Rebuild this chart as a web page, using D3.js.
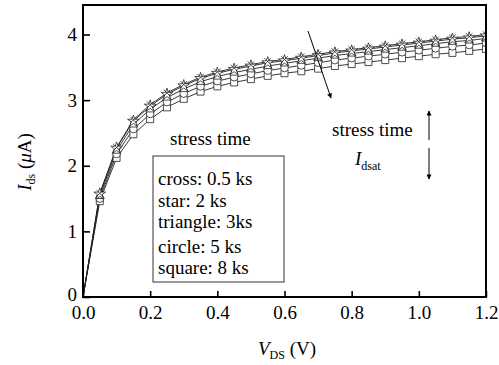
<!DOCTYPE html>
<html>
<head>
<meta charset="utf-8">
<script src="https://cdn.jsdelivr.net/npm/d3@7"></script>
<style>
  body { margin: 0; background: #fff; }
  svg text { font-family: "Liberation Serif", "Times New Roman", serif; fill: #000; }
</style>
</head>
<body>
<svg id="svg" width="499" height="365"></svg>
<script>
'use strict'

// drain voltage (V)
var vds = [0, 0.05, 0.1, 0.15, 0.2, 0.25, 0.3, 0.35, 0.4, 0.45, 0.5, 0.55, 0.6,
           0.65, 0.7, 0.75, 0.8, 0.85, 0.9, 0.95, 1.0, 1.05, 1.1, 1.15, 1.2];

// Ids (uA) for each stress time
var cross    = [0, 1.58, 2.28, 2.70, 2.93, 3.11, 3.24, 3.35, 3.43, 3.49, 3.54, 3.59, 3.62,
                3.66, 3.70, 3.74, 3.77, 3.80, 3.83, 3.86, 3.89, 3.92, 3.95, 3.97, 4.00];
var star     = [0, 1.57, 2.27, 2.68, 2.91, 3.09, 3.22, 3.33, 3.41, 3.47, 3.52, 3.57, 3.60,
                3.64, 3.68, 3.72, 3.75, 3.78, 3.81, 3.84, 3.87, 3.90, 3.93, 3.95, 3.98];
var triangle = [0, 1.54, 2.23, 2.63, 2.86, 3.04, 3.17, 3.28, 3.36, 3.42, 3.47, 3.52, 3.56,
                3.60, 3.64, 3.68, 3.71, 3.74, 3.77, 3.80, 3.83, 3.86, 3.89, 3.91, 3.94];
var circle   = [0, 1.50, 2.18, 2.56, 2.79, 2.97, 3.10, 3.21, 3.29, 3.35, 3.40, 3.45, 3.49,
                3.53, 3.57, 3.61, 3.64, 3.67, 3.70, 3.73, 3.76, 3.79, 3.82, 3.84, 3.87];
var square   = [0, 1.46, 2.12, 2.48, 2.71, 2.89, 3.02, 3.13, 3.21, 3.27, 3.32, 3.37, 3.41,
                3.44, 3.48, 3.52, 3.55, 3.58, 3.61, 3.64, 3.67, 3.70, 3.72, 3.75, 3.78];

var xTicks = [0, 0.2, 0.4, 0.6, 0.8, 1.0, 1.2];
var yTicks = [0, 1, 2, 3, 4];
var legendLines = ['cross: 0.5 ks', 'star: 2 ks', 'triangle: 3ks', 'circle: 5 ks', 'square: 8 ks'];

// drawn bottom-first so the top curves sit over the lower ones
var series = [
  { name: 'square', values: square, symbol: d3.symbolSquare, size: 49 },
  { name: 'circle', values: circle, symbol: d3.symbolCircle, size: 46 },
  { name: 'triangle', values: triangle, symbol: d3.symbolTriangle, size: 34 },
  { name: 'star', values: star, symbol: d3.symbolStar, size: 42 },
  { name: 'cross', values: cross, symbol: d3.symbolX, size: 30 }
];

var svg = d3.select('#svg');
var pLeft = 83, pRight = 486, pTop = 5, pBottom = 297;

var x = d3.scaleLinear().domain([0, 1.2]).range([pLeft, pRight]);
var y = d3.scaleLinear().domain([0, 4.45]).range([pBottom, pTop]);

var defs = svg.append('defs');
defs.append('clipPath').attr('id', 'plot')
  .append('rect').attr('x', pLeft).attr('y', pTop)
  .attr('width', pRight - pLeft).attr('height', pBottom - pTop);

var xAxis = svg.append('g')
  .attr('transform', 'translate(0,' + pBottom + ')')
  .call(d3.axisBottom(x).tickValues(xTicks).tickFormat(d3.format('.1f'))
    .tickSizeInner(-6).tickSizeOuter(0).tickPadding(9));
var yAxis = svg.append('g')
  .attr('transform', 'translate(' + pLeft + ',0)')
  .call(d3.axisLeft(y).tickValues(yTicks).tickFormat(d3.format('d'))
    .tickSizeInner(-7).tickSizeOuter(0).tickPadding(6));
[xAxis, yAxis].forEach(function(g) {
  g.select('.domain').remove();
  g.selectAll('line').attr('stroke', '#000').attr('stroke-width', 1.6);
  g.selectAll('text').attr('font-size', 19)
    .style('font-family', '"Liberation Serif", "Times New Roman", serif');
});
// lift the "0" a touch so it clears the "0.0" below
yAxis.selectAll('text').filter(function(d) { return d === 0; }).attr('dy', '0.2em');

var plot = svg.append('g').attr('clip-path', 'url(#plot)');

var line = d3.line()
  .x(function(d, i) { return x(vds[i]); })
  .y(function(d) { return y(d); });

series.forEach(function(s) {
  plot.append('path')
    .attr('d', line(s.values))
    .attr('fill', 'none')
    .attr('stroke', '#222')
    .attr('stroke-width', 0.9);
});

series.forEach(function(s) {
  var sym = d3.symbol().type(s.symbol).size(s.size);
  plot.selectAll('path.m-' + s.name)
    .data(s.values.slice(1))
    .enter().append('path')
    .attr('class', 'm-' + s.name)
    .attr('transform', function(d, i) { return 'translate(' + x(vds[i + 1]) + ',' + y(d) + ')'; })
    .attr('d', sym)
    .attr('fill', s.name === 'cross' ? 'none' : '#fff')
    .attr('stroke', '#222')
    .attr('stroke-width', 0.8);
});

// frame
svg.append('rect')
  .attr('x', pLeft).attr('y', pTop)
  .attr('width', pRight - pLeft).attr('height', pBottom - pTop)
  .attr('fill', 'none').attr('stroke', '#000').attr('stroke-width', 2);

// arrows
defs.append('marker').attr('id', 'head')
  .attr('viewBox', '0 0 10 10').attr('refX', 9).attr('refY', 5)
  .attr('markerWidth', 9).attr('markerHeight', 5).attr('orient', 'auto')
  .attr('markerUnits', 'userSpaceOnUse')
  .append('path').attr('d', 'M0,0 L10,5 L0,10 z').attr('fill', '#000');

function arrow(x1, y1, x2, y2) {
  svg.append('line')
    .attr('x1', x1).attr('y1', y1).attr('x2', x2).attr('y2', y2)
    .attr('stroke', '#000').attr('stroke-width', 1)
    .attr('marker-end', 'url(#head)');
}
arrow(308, 31, 331, 98);
arrow(429, 140, 429, 111);
arrow(429, 148, 429, 179);

// annotations
svg.append('text').attr('x', 170).attr('y', 145).attr('font-size', 19).text('stress time');
svg.append('text').attr('x', 332).attr('y', 136).attr('font-size', 19).text('stress time');
var idsat = svg.append('text').attr('x', 355).attr('y', 165).attr('font-size', 19);
idsat.append('tspan').attr('font-style', 'italic').text('I');
idsat.append('tspan').attr('font-size', 12).attr('dy', 5).text('dsat');

// legend box
svg.append('rect')
  .attr('x', 153).attr('y', 156).attr('width', 131).attr('height', 126)
  .attr('fill', 'none').attr('stroke', '#333').attr('stroke-width', 1);
var legendY = [185, 207, 228, 253, 274];
svg.selectAll('text.legend')
  .data(legendLines)
  .enter().append('text')
  .attr('class', 'legend')
  .attr('x', 158)
  .attr('y', function(d, i) { return legendY[i]; })
  .attr('font-size', 19)
  .text(function(d) { return d; });

// axis titles
var xt = svg.append('text').attr('x', 287).attr('y', 355)
  .attr('text-anchor', 'middle').attr('font-size', 19);
xt.append('tspan').attr('font-style', 'italic').text('V');
xt.append('tspan').attr('font-size', 12).attr('dy', 4).text('DS');
xt.append('tspan').attr('dy', -4).text(' (V)');

var yt = svg.append('text')
  .attr('transform', 'translate(31,162) rotate(-90)')
  .attr('text-anchor', 'middle').attr('font-size', 19);
yt.append('tspan').attr('font-style', 'italic').text('I');
yt.append('tspan').attr('font-size', 12).attr('dy', 4).text('ds');
yt.append('tspan').attr('dy', -4).text(' (');
yt.append('tspan').attr('font-style', 'italic').text('\u03bc');
yt.append('tspan').text('A)');
</script>
</body>
</html>
